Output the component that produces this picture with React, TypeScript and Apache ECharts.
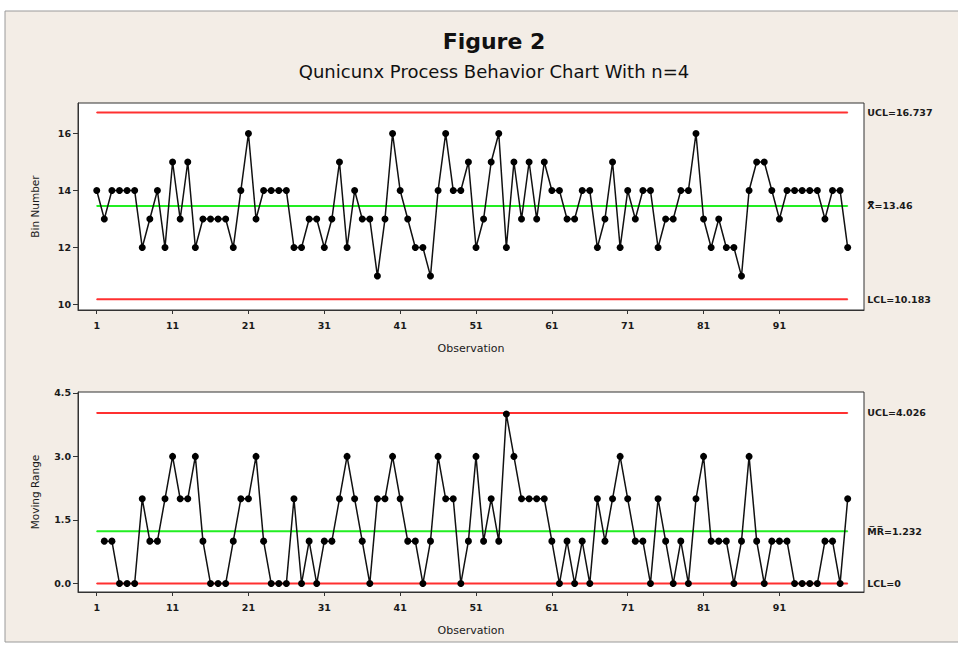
import React, { useEffect, useRef } from "react";
import * as echarts from "echarts";

const binNumber = [
  14, 13, 14, 14, 14, 14, 12, 13, 14, 12,
  15, 13, 15, 12, 13, 13, 13, 13, 12, 14,
  16, 13, 14, 14, 14, 14, 12, 12, 13, 13,
  12, 13, 15, 12, 14, 13, 13, 11, 13, 16,
  14, 13, 12, 12, 11, 14, 16, 14, 14, 15,
  12, 13, 15, 16, 12, 15, 13, 15, 13, 15,
  14, 14, 13, 13, 14, 14, 12, 13, 15, 12,
  14, 13, 14, 14, 12, 13, 13, 14, 14, 16,
  13, 12, 13, 12, 12, 11, 14, 15, 15, 14,
  13, 14, 14, 14, 14, 14, 13, 14, 14, 12,
];

// moving ranges, observations 2..100
const movingRange = [
  1, 1, 0, 0, 0, 2, 1, 1, 2,
  3, 2, 2, 3, 1, 0, 0, 0, 1, 2,
  2, 3, 1, 0, 0, 0, 2, 0, 1, 0,
  1, 1, 2, 3, 2, 1, 0, 2, 2, 3,
  2, 1, 1, 0, 1, 3, 2, 2, 0, 1,
  3, 1, 2, 1, 4, 3, 2, 2, 2, 2,
  1, 0, 1, 0, 1, 0, 2, 1, 2, 3,
  2, 1, 1, 0, 2, 1, 0, 1, 0, 2,
  3, 1, 1, 1, 0, 1, 3, 1, 0, 1,
  1, 1, 0, 0, 0, 0, 1, 1, 0, 2,
];

const xTicks = [1, 11, 21, 31, 41, 51, 61, 71, 81, 91];
const binTicks = [10, 12, 14, 16];
const mrTicks = [0, 1.5, 3, 4.5];

const xbarLimits = { ucl: 16.737, center: 13.46, lcl: 10.183 };
const mrLimits = { ucl: 4.026, center: 1.232, lcl: 0 };

const xbarLabels = ["UCL=16.737", "X\u033F=13.46", "LCL=10.183"];
const mrLabels = ["UCL=4.026", "M\u0305R\u0305=1.232", "LCL=0"];

const FONT = "DejaVu Sans";

export default function App() {
  const ref = useRef<HTMLDivElement>(null);

  useEffect(() => {
    if (!ref.current) return;
    const chart = echarts.init(ref.current, undefined, { renderer: "svg" });

    const first = 1;
    const last = binNumber.length;

    const limitSeries = (
      xAxisIndex: number,
      value: number,
      color: string,
      text: string
    ) => ({
      type: "line",
      xAxisIndex,
      yAxisIndex: xAxisIndex,
      symbol: "circle",
      symbolSize: 1,
      showSymbol: true,
      silent: true,
      itemStyle: { color },
      lineStyle: { color, width: 2 },
      z: 1,
      data: [
        [first, value],
        {
          value: [last, value],
          label: {
            show: true,
            position: "right",
            distance: 19,
            formatter: text,
            fontFamily: FONT,
            fontSize: 9.5,
            fontWeight: "bold",
            color: "#1a1a1a",
          },
        },
      ],
    });

    const xAxisBase = (gridIndex: number) => ({
      type: "value",
      gridIndex,
      min: -1.47,
      max: 102.15,
      name: "Observation",
      nameLocation: "middle",
      nameGap: 33,
      nameTextStyle: { fontFamily: FONT, fontSize: 11, color: "#1a1a1a" },
      splitLine: { show: false },
      axisLine: { show: true, onZero: false, lineStyle: { color: "#333", width: 1 } },
      axisTick: {
        show: true,
        length: 4,
        customValues: xTicks,
        lineStyle: { color: "#333" },
      },
      axisLabel: {
        customValues: xTicks,
        fontFamily: FONT,
        fontSize: 9.5,
        fontWeight: "bold",
        color: "#1a1a1a",
        margin: 10,
      },
    });

    const yAxisBase = (
      gridIndex: number,
      min: number,
      max: number,
      name: string,
      ticks: number[],
      fmt?: (v: number) => string
    ) => ({
      type: "value",
      gridIndex,
      min,
      max,
      name,
      nameLocation: "middle",
      nameGap: 38,
      nameTextStyle: { fontFamily: FONT, fontSize: 10.5, color: "#1a1a1a" },
      splitLine: { show: false },
      axisLine: { show: true, onZero: false, lineStyle: { color: "#333" } },
      axisTick: {
        show: true,
        length: 5,
        customValues: ticks,
        lineStyle: { color: "#333" },
      },
      axisLabel: {
        customValues: ticks,
        formatter: fmt,
        fontFamily: FONT,
        fontSize: 9.5,
        fontWeight: "bold",
        color: "#1a1a1a",
        margin: 7,
      },
    });

    const option: any = {
      animation: false,
      backgroundColor: "transparent",
      graphic: [
        {
          type: "rect",
          shape: { x: 5, y: 11, width: 960, height: 631 },
          style: { fill: "#f3ede6", stroke: "#9a9a9a", lineWidth: 1 },
          z: -10,
        },
      ],
      title: [
        {
          text: "Figure 2",
          left: 489,
          textAlign: "center",
          top: 25,
          textStyle: {
            fontFamily: FONT,
            fontSize: 22,
            fontWeight: "bold",
            color: "#111",
          },
        },
        {
          text: "Qunicunx Process Behavior Chart With n=4",
          left: 489,
          textAlign: "center",
          top: 57,
          textStyle: {
            fontFamily: FONT,
            fontSize: 18,
            fontWeight: "normal",
            color: "#111",
          },
        },
      ],
      grid: [
        {
          left: 78,
          top: 103,
          width: 786,
          height: 207,
          show: true,
          backgroundColor: "#ffffff",
          borderColor: "#333",
          borderWidth: 1,
        },
        {
          left: 78,
          top: 392,
          width: 786,
          height: 200,
          show: true,
          backgroundColor: "#ffffff",
          borderColor: "#333",
          borderWidth: 1,
        },
      ],
      xAxis: [xAxisBase(0), xAxisBase(1)],
      yAxis: [
        yAxisBase(0, 9.81, 17.07, "Bin Number", binTicks),
        yAxisBase(1, -0.2, 4.52, "Moving Range", mrTicks, (v: number) => v.toFixed(1)),
      ],
      series: [
        limitSeries(0, xbarLimits.ucl, "#ff3030", xbarLabels[0]),
        limitSeries(0, xbarLimits.center, "#22ee22", xbarLabels[1]),
        limitSeries(0, xbarLimits.lcl, "#ff3030", xbarLabels[2]),
        {
          type: "line",
          xAxisIndex: 0,
          yAxisIndex: 0,
          symbol: "circle",
          symbolSize: 7,
          itemStyle: { color: "#000" },
          lineStyle: { color: "#111", width: 1.5 },
          z: 5,
          data: binNumber.map((v, i) => [i + 1, v]),
        },
        limitSeries(1, mrLimits.ucl, "#ff3030", mrLabels[0]),
        limitSeries(1, mrLimits.center, "#22ee22", mrLabels[1]),
        limitSeries(1, mrLimits.lcl, "#ff3030", mrLabels[2]),
        {
          type: "line",
          xAxisIndex: 1,
          yAxisIndex: 1,
          symbol: "circle",
          symbolSize: 7,
          itemStyle: { color: "#000" },
          lineStyle: { color: "#111", width: 1.5 },
          z: 5,
          data: movingRange.map((v, i) => [i + 2, v]),
        },
      ],
    };

    chart.setOption(option);
    return () => chart.dispose();
  }, []);

  return (
    <div
      ref={ref}
      style={{
        position: "fixed",
        left: 0,
        top: 0,
        width: 958,
        height: 645,
        background: "#ffffff",
      }}
    />
  );
}
